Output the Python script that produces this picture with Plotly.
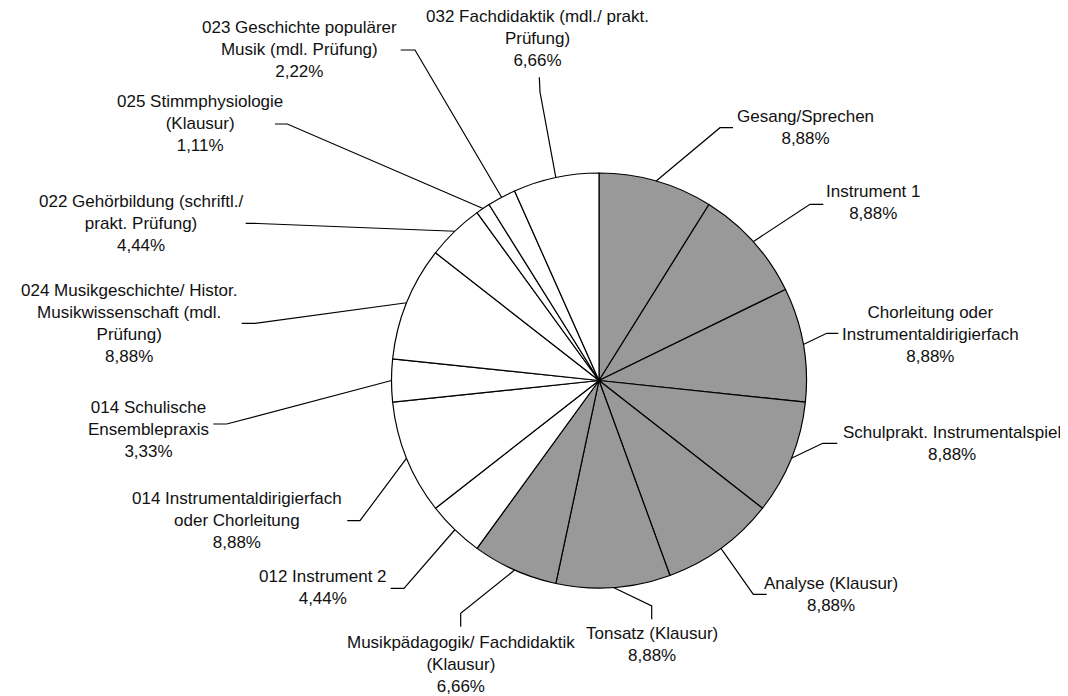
import math
import plotly.graph_objects as go

# ---------------- data ----------------
categories = [
    "Gesang/Sprechen",
    "Instrument 1",
    "Chorleitung oder\nInstrumentaldirigierfach",
    "Schulprakt. Instrumentalspiel",
    "Analyse (Klausur)",
    "Tonsatz (Klausur)",
    "Musikpädagogik/ Fachdidaktik\n(Klausur)",
    "012 Instrument 2",
    "014 Instrumentaldirigierfach\noder Chorleitung",
    "014 Schulische\nEnsemblepraxis",
    "024 Musikgeschichte/ Histor.\nMusikwissenschaft (mdl.\nPrüfung)",
    "022 Gehörbildung (schriftl./\nprakt. Prüfung)",
    "025 Stimmphysiologie\n(Klausur)",
    "023 Geschichte populärer\nMusik (mdl. Prüfung)",
    "032 Fachdidaktik (mdl./ prakt.\nPrüfung)",
]
values = [8.88, 8.88, 8.88, 8.88, 8.88, 8.88, 6.66,
          4.44, 8.88, 3.33, 8.88, 4.44, 1.11, 2.22, 6.66]
shaded = [True] * 7 + [False] * 8

# ---------------- layout / style ----------------
OFF = 8                                   # page body margin
W, H = 1068 - OFF, 696 - OFF              # figure size
CX, CY, R = 599.0, 380.5, 207.5          # pie centre and radius in window pixels
FONT = dict(family="Liberation Sans, Arial, sans-serif", size=17, color="#111111")

# label block centre, leader elbow and leader end (window pixels)
label_pos = [
    (805, 127.5), (873, 203), (930, 334.5), (951.7, 443), (831, 594),
    (651.7, 644.7), (461, 664), (323.3, 587.5), (237, 520), (148.5, 429),
    (128.5, 323), (141, 223), (199.5, 124), (299.5, 49), (537.5, 38.5),
]
elbows = [
    (720, 127.7), (810, 204.3), (826.7, 333.3), (822.7, 443.3), (753.3, 594.3),
    (651.7, 606), (460.7, 613.3), (404, 588.3), (360, 520.7), (226.7, 424),
    (255, 323.3), (258, 223.5), (287.3, 124), (415, 50), (540, 92),
]
ends = [
    (733, 127.7), (823.3, 204.3), (838.3, 333.3), (837.3, 443.3), (766.7, 594.3),
    (651.7, 619.3), (460.7, 626.7), (390.7, 588.3), (347.3, 520.7), (213.3, 424),
    (241.7, 323.3), (245.7, 223.3), (275, 124), (400.7, 50), (539.3, 77.3),
]


def px(x):
    return (x - OFF) / W


def py(y):
    return 1 - (y - OFF) / H


colors = ["#999999" if s else "#ffffff" for s in shaded]

fig = go.Figure(
    go.Pie(
        labels=[c.replace("\n", " ") for c in categories],
        values=values,
        sort=False,
        direction="clockwise",
        rotation=0,
        textinfo="none",
        hoverinfo="label+value",
        marker=dict(colors=colors, line=dict(color="#000000", width=1.2)),
        domain=dict(x=[px(CX - R), px(CX + R)], y=[py(CY + R), py(CY - R)]),
        showlegend=False,
    )
)

total = sum(values)
cum = 0.0
shapes = []
annotations = []
for i, v in enumerate(values):
    frac = (cum + v / 2) / total
    cum += v
    th = 2 * math.pi * frac
    ex = CX + R * math.sin(th)
    ey = CY - R * math.cos(th)
    (bx, by), (nx, ny) = elbows[i], ends[i]
    path = f"M {px(ex)},{py(ey)} L {px(bx)},{py(by)} L {px(nx)},{py(ny)}"
    shapes.append(dict(type="path", xref="paper", yref="paper", path=path,
                       line=dict(color="#000000", width=1.2)))
    pct = f"{v:.2f}".replace(".", ",") + "%"
    text = categories[i].replace("\n", "<br>") + "<br>" + pct
    lx, ly = label_pos[i]
    annotations.append(dict(x=px(lx), y=py(ly), xref="paper", yref="paper",
                            text=text, showarrow=False, xanchor="center",
                            yanchor="middle", align="center", font=FONT))

fig.update_layout(
    width=W, height=H,
    margin=dict(l=0, r=0, t=0, b=0),
    paper_bgcolor="#ffffff",
    plot_bgcolor="#ffffff",
    shapes=shapes,
    annotations=annotations,
)

fig.write_html("out.html")
